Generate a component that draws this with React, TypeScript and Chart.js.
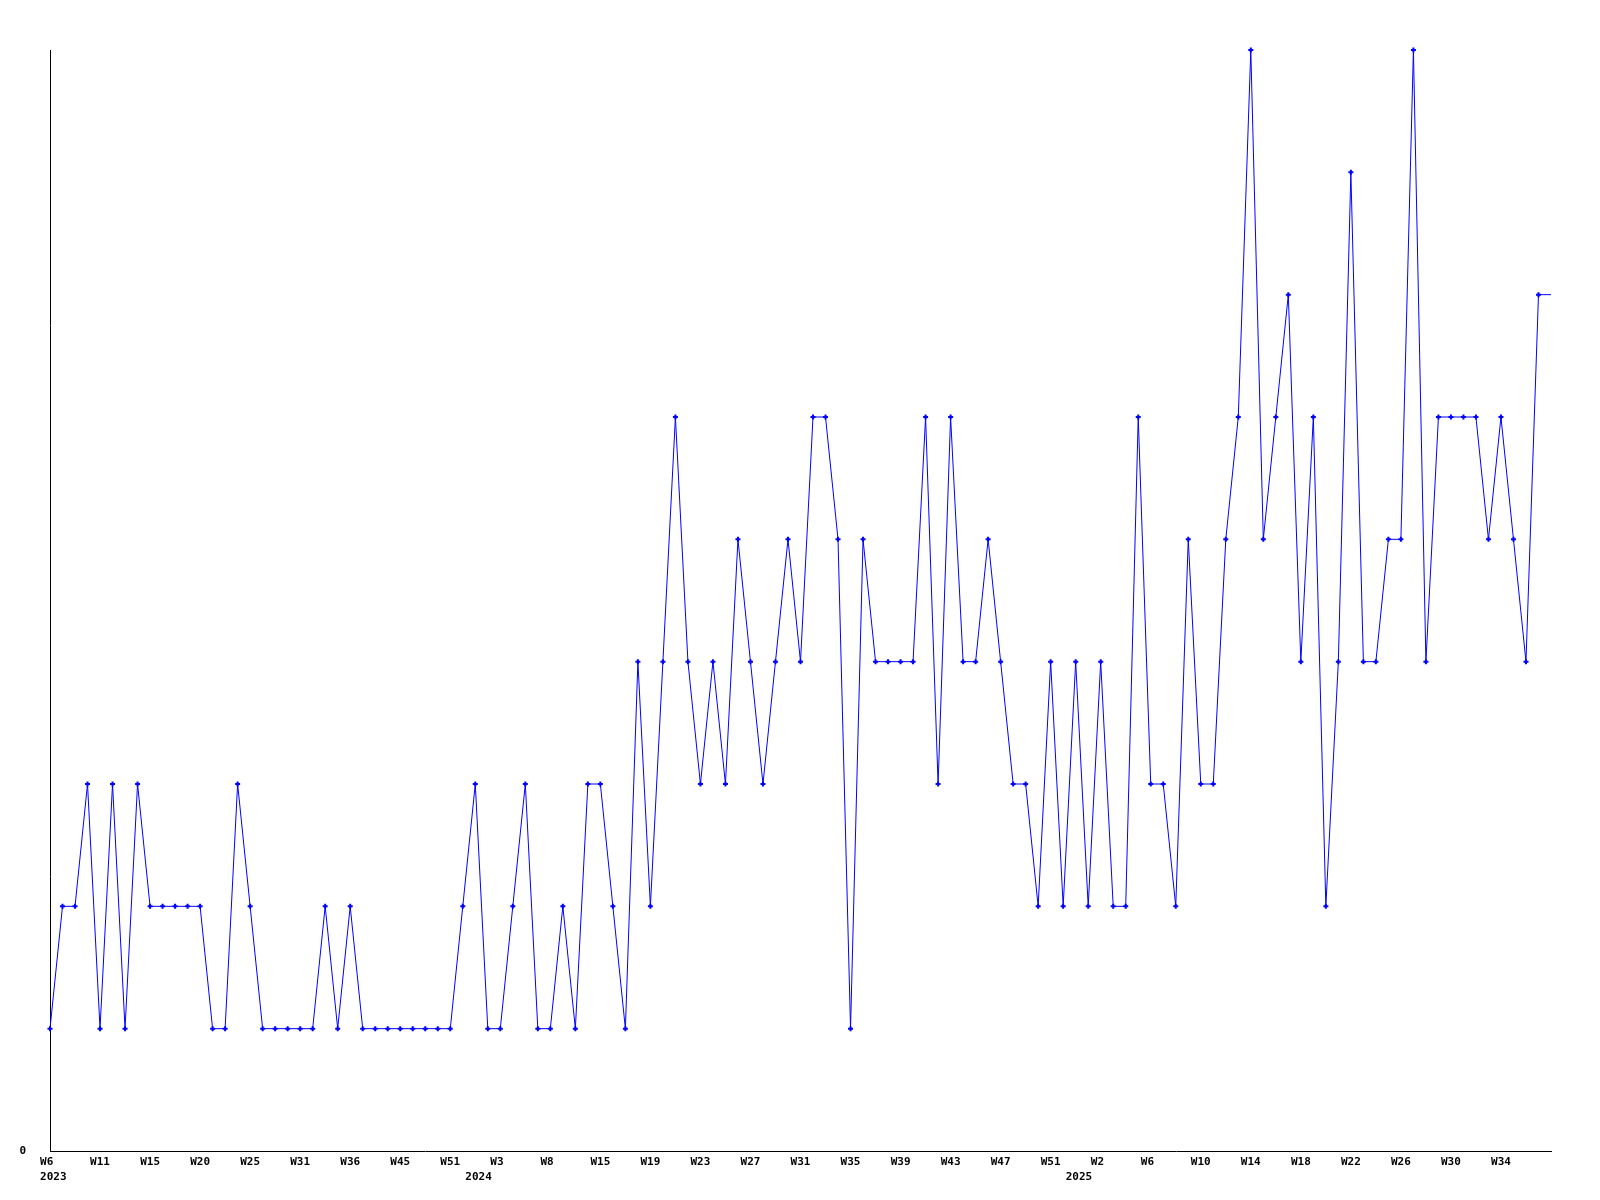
import React, { useEffect, useRef } from "react";
import { Chart, registerables } from "chart.js";

Chart.register(...registerables);

// Week categories (one per data point)
const weeks: string[] = [
  "W6", "W7", "W8", "W10", "W11", "W12", "W13", "W14", "W15", "W16",
  "W17", "W19", "W20", "W21", "W22", "W24", "W25", "W26", "W28", "W29",
  "W31", "W32", "W33", "W35", "W36", "W38", "W40", "W42", "W45", "W46",
  "W48", "W50", "W51", "W52", "W1", "W2", "W3", "W4", "W6", "W7",
  "W8", "W10", "W12", "W14", "W15", "W16", "W17", "W18", "W19", "W20",
  "W21", "W22", "W23", "W24", "W25", "W26", "W27", "W28", "W29", "W30",
  "W31", "W32", "W33", "W34", "W35", "W36", "W37", "W38", "W39", "W40",
  "W41", "W42", "W43", "W44", "W45", "W46", "W47", "W48", "W49", "W50",
  "W51", "W52", "W1", "W1", "W2", "W3", "W4", "W5", "W6", "W7",
  "W8", "W9", "W10", "W11", "W12", "W13", "W14", "W15", "W16", "W17",
  "W18", "W19", "W20", "W21", "W22", "W23", "W24", "W25", "W26", "W27",
  "W28", "W29", "W30", "W31", "W32", "W33", "W34", "W35", "W36", "W37",
  "W38",
];

// Year marks: index of first week of each year, and its label
const yearIndexes: number[] = [0, 34, 82];
const yearLabels: string[] = ["2023", "2024", "2025"];

// Series values
const values: number[] = [
  1, 2, 2, 3, 1, 3, 1, 3, 2, 2,
  2, 2, 2, 1, 1, 3, 2, 1, 1, 1,
  1, 1, 2, 1, 2, 1, 1, 1, 1, 1,
  1, 1, 1, 2, 3, 1, 1, 2, 3, 1,
  1, 2, 1, 3, 3, 2, 1, 4, 2, 4,
  6, 4, 3, 4, 3, 5, 4, 3, 4, 5,
  4, 6, 6, 5, 1, 5, 4, 4, 4, 4,
  6, 3, 6, 4, 4, 5, 4, 3, 3, 2,
  4, 2, 4, 2, 4, 2, 2, 6, 3, 3,
  2, 5, 3, 3, 5, 6, 9, 5, 6, 7,
  4, 6, 2, 4, 8, 4, 4, 5, 5, 9,
  4, 6, 6, 6, 6, 5, 6, 5, 4, 7,
  7,
];

const yMin = 0;
const yMax = 9;
const tickEvery = 4;

const FONT_FAMILY = "'DejaVu Sans Mono', 'Liberation Mono', monospace";

// Labels in the reference are left-aligned ~10px before the tick; with a
// monospace font and centred text, padding to 3 chars reproduces that.
function padWeek(s: string): string {
  return s.length < 3 ? s + " " : s;
}

export default function App() {
  const canvasRef = useRef<HTMLCanvasElement | null>(null);

  useEffect(() => {
    const canvas = canvasRef.current;
    if (!canvas) return;
    const chart = new Chart(canvas, {
      type: "line",
      data: {
        labels: weeks,
        datasets: [
          {
            data: values,
            borderColor: "#0000ff",
            borderWidth: 1,
            backgroundColor: "#0000ff",
            pointStyle: "cross",
            pointRadius: (ctx: any) => (ctx.dataIndex === values.length - 1 ? 0 : 2.5),
            pointBorderWidth: 2,
            pointBorderColor: "#0000ff",
            pointBackgroundColor: "#0000ff",
            pointHoverRadius: 2.5,
            tension: 0,
            fill: false,
            clip: false as any,
          },
        ],
      },
      options: {
        animation: false,
        responsive: false,
        maintainAspectRatio: false,
        devicePixelRatio: 1,
        layout: { padding: { top: 50, right: 49, left: 0, bottom: 0 } },
        plugins: {
          legend: { display: false },
          tooltip: { enabled: false },
          title: { display: false },
        },
        scales: {
          x: {
            type: "category",
            offset: false,
            grid: { display: false, drawTicks: false, tickLength: 0 },
            border: { display: true, color: "#000000", width: 1 },
            afterFit: (scale: any) => {
              scale.height = 49;
            },
            ticks: {
              autoSkip: false,
              maxRotation: 0,
              minRotation: 0,
              padding: 3,
              color: "#000000",
              font: { family: FONT_FAMILY, size: 11, weight: "bold", lineHeight: 1.41 },
              callback: (_value: any, index: number) => {
                const yi = yearIndexes.indexOf(index);
                const wk =
                  index % tickEvery === 0 && index < values.length - 1 ? padWeek(weeks[index]) : "";
                if (yi >= 0) return [wk, " " + yearLabels[yi]];
                return wk;
              },
            },
          },
          y: {
            type: "linear",
            min: yMin,
            max: yMax,
            grid: { display: false, drawTicks: false, tickLength: 0 },
            border: { display: true, color: "#000000", width: 1 },
            afterFit: (scale: any) => {
              scale.width = 50;
            },
            afterBuildTicks: (scale: any) => {
              scale.ticks = [{ value: yMin }];
            },
            ticks: {
              padding: 24,
              color: "#000000",
              font: { family: FONT_FAMILY, size: 11, weight: "bold" },
              callback: (v: any) => String(v),
            },
          },
        },
      },
    } as any);
    return () => chart.destroy();
  }, []);

  return (
    <div style={{ position: "absolute", left: 0, top: 0, width: 1600, height: 1200, background: "#ffffff" }}>
      <canvas ref={canvasRef} width={1600} height={1200} style={{ width: 1600, height: 1200, display: "block" }} />
    </div>
  );
}
